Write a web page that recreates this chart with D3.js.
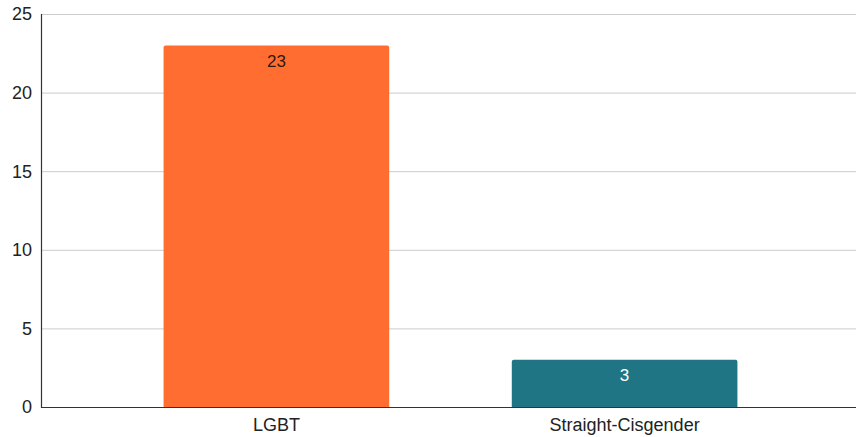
<!DOCTYPE html>
<html><head><meta charset="utf-8">
<script src="https://cdn.jsdelivr.net/npm/d3@7/dist/d3.min.js"></script>
<style>body{margin:0;background:#fff}svg{display:block}text{font-family:"Liberation Sans",Arial,sans-serif}</style>
</head><body><svg id="c" width="856" height="437"></svg>
<script>
const categories = ["LGBT", "Straight-Cisgender"];
const values = [23, 3];
const colors = ["#FF6D31", "#1F7584"];
const labelColors = ["#2b1a12", "#ffffff"];
const yTicks = [0, 5, 10, 15, 20, 25];

(function () {
const svg = d3.select("#c");
const mLeft = 41, mRight = 856, mTop = 14, mBottom = 407;
const x = d3.scaleBand().domain(categories).range([mLeft, 860]).paddingInner(0.352).paddingOuter(0.352);
const y = d3.scaleLinear().domain([0, 25]).range([mBottom, mTop]);

// gridlines
svg.append("g").selectAll("line").data(yTicks.filter(d => d > 0)).join("line")
  .attr("x1", mLeft).attr("x2", mRight)
  .attr("y1", d => y(d) + 0.5).attr("y2", d => y(d) + 0.5)
  .attr("stroke", "#cccccc").attr("stroke-width", 1);

// y tick labels
svg.append("g").selectAll("text").data(yTicks).join("text")
  .attr("x", 32).attr("y", d => y(d)).attr("dy", "0.35em")
  .attr("text-anchor", "end").attr("font-size", 18).attr("fill", "#222")
  .text(d => d);

// bars with rounded top corners
const r = 2;
svg.append("g").selectAll("path").data(values).join("path")
  .attr("fill", (d, i) => colors[i])
  .attr("d", (d, i) => {
    const x0 = x(categories[i]), w = x.bandwidth(), y0 = y(d), y1 = y(0);
    return `M${x0},${y1}V${y0 + r}Q${x0},${y0} ${x0 + r},${y0}H${x0 + w - r}Q${x0 + w},${y0} ${x0 + w},${y0 + r}V${y1}Z`;
  });

// value labels
svg.append("g").selectAll("text").data(values).join("text")
  .attr("x", (d, i) => x(categories[i]) + x.bandwidth() / 2)
  .attr("y", d => y(d) + 21.5)
  .attr("text-anchor", "middle").attr("font-size", 17)
  .attr("fill", (d, i) => labelColors[i])
  .text(d => d);

// axes lines
svg.append("line").attr("x1", mLeft + 0.5).attr("x2", mLeft + 0.5).attr("y1", mTop).attr("y2", mBottom + 1)
  .attr("stroke", "#333").attr("stroke-width", 1.2);
svg.append("line").attr("x1", mLeft).attr("x2", mRight).attr("y1", mBottom + 0.5).attr("y2", mBottom + 0.5)
  .attr("stroke", "#333").attr("stroke-width", 1.2);

// x labels
svg.append("g").selectAll("text").data(categories).join("text")
  .attr("x", d => x(d) + x.bandwidth() / 2).attr("y", 431)
  .attr("text-anchor", "middle").attr("font-size", 18).attr("fill", "#222")
  .text(d => d);
})();
</script></body></html>
